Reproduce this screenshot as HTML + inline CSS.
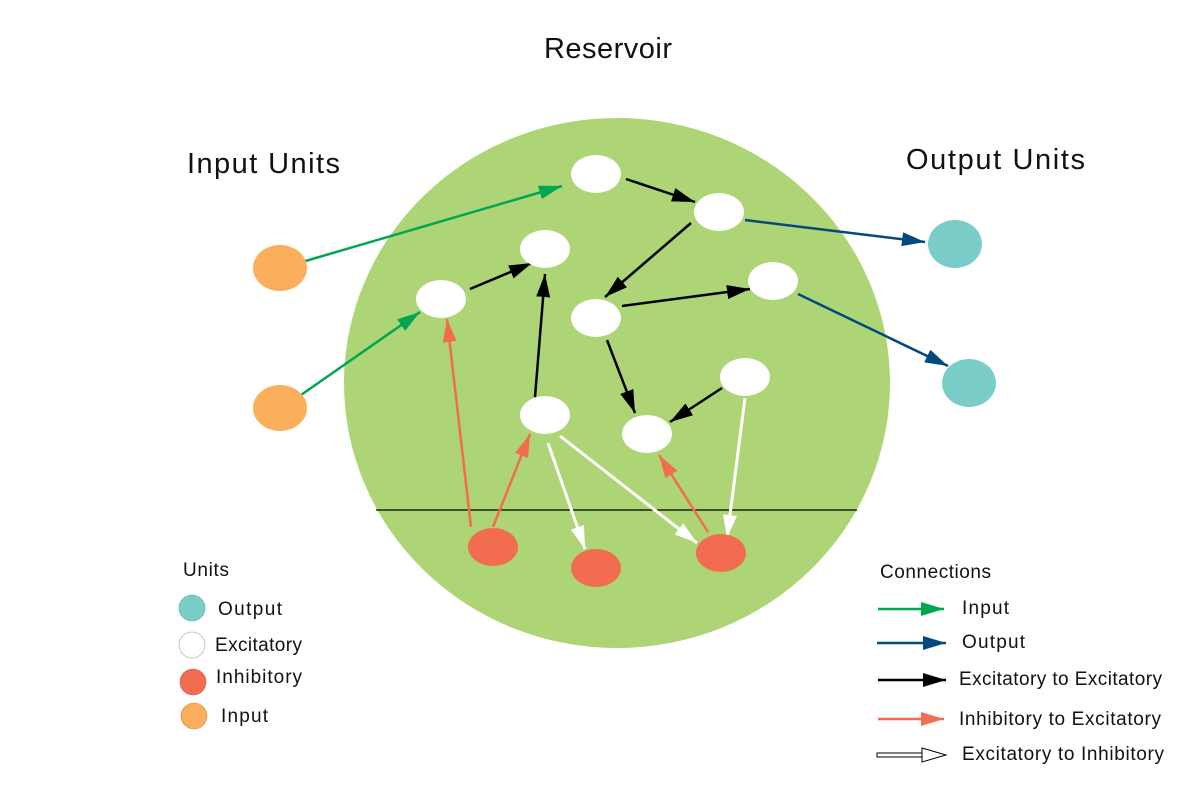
<!DOCTYPE html>
<html><head><meta charset="utf-8"><style>html,body{margin:0;padding:0;background:#fff}svg{display:block}text{font-family:"Liberation Sans",sans-serif;fill:#111}</style></head><body>
<svg width="1200" height="800" viewBox="0 0 1200 800" xmlns="http://www.w3.org/2000/svg">
<defs>
<marker id="mg" markerUnits="userSpaceOnUse" markerWidth="26" markerHeight="16" refX="23" refY="7" orient="auto"><path d="M0,0 L23,7 L0,14 Z" fill="#00a651"/></marker>
<marker id="mb" markerUnits="userSpaceOnUse" markerWidth="26" markerHeight="16" refX="23" refY="7" orient="auto"><path d="M0,0 L23,7 L0,14 Z" fill="#004a80"/></marker>
<marker id="mk" markerUnits="userSpaceOnUse" markerWidth="26" markerHeight="16" refX="23" refY="7" orient="auto"><path d="M0,0 L23,7 L0,14 Z" fill="#000"/></marker>
<marker id="mr" markerUnits="userSpaceOnUse" markerWidth="26" markerHeight="16" refX="23" refY="7" orient="auto"><path d="M0,0 L23,7 L0,14 Z" fill="#f26c4f"/></marker>
<marker id="mw" markerUnits="userSpaceOnUse" markerWidth="26" markerHeight="16" refX="23" refY="7" orient="auto"><path d="M0,0 L23,7 L0,14 Z" fill="#fff"/></marker>
</defs>
<text x="544" y="58" font-size="29" textLength="128">Reservoir</text>
<text x="187" y="173" font-size="29" textLength="153">Input Units</text>
<text x="906" y="169" font-size="29" textLength="179">Output Units</text>
<ellipse cx="617" cy="383" rx="273" ry="265" fill="#add475"/>
<line x1="376" y1="510" x2="857" y2="510" stroke="#000" stroke-width="1.2"/>
<g stroke-width="2.5" fill="none">
<line x1="302" y1="262" x2="562" y2="186" stroke="#00a651" marker-end="url(#mg)"/>
<line x1="301" y1="395" x2="420" y2="312" stroke="#00a651" marker-end="url(#mg)"/>
<line x1="745" y1="220" x2="925" y2="242" stroke="#004a80" marker-end="url(#mb)"/>
<line x1="798" y1="294" x2="948" y2="366" stroke="#004a80" marker-end="url(#mb)"/>
<line x1="626" y1="179" x2="695" y2="202" stroke="#000" marker-end="url(#mk)"/>
<line x1="691" y1="223" x2="605" y2="297" stroke="#000" marker-end="url(#mk)"/>
<line x1="470" y1="289" x2="532" y2="263" stroke="#000" marker-end="url(#mk)"/>
<line x1="622" y1="306" x2="750" y2="289" stroke="#000" marker-end="url(#mk)"/>
<line x1="535" y1="397" x2="545" y2="274" stroke="#000" marker-end="url(#mk)"/>
<line x1="607" y1="340" x2="635" y2="413" stroke="#000" marker-end="url(#mk)"/>
<line x1="722" y1="388" x2="670" y2="422" stroke="#000" marker-end="url(#mk)"/>
<line x1="471" y1="527" x2="447" y2="319" stroke="#f26c4f" marker-end="url(#mr)"/>
<line x1="493" y1="527" x2="530" y2="434" stroke="#f26c4f" marker-end="url(#mr)"/>
<line x1="708" y1="532" x2="659" y2="455" stroke="#f26c4f" marker-end="url(#mr)"/>
<line x1="548" y1="443" x2="585" y2="549" stroke="#fff" stroke-width="3" marker-end="url(#mw)"/>
<line x1="560" y1="436" x2="697" y2="543" stroke="#fff" stroke-width="3" marker-end="url(#mw)"/>
<line x1="745" y1="398" x2="727" y2="538" stroke="#fff" stroke-width="3" marker-end="url(#mw)"/>
</g>
<g fill="#fff">
<ellipse cx="596" cy="174" rx="25" ry="19"/>
<ellipse cx="719" cy="212" rx="25" ry="19"/>
<ellipse cx="545" cy="249" rx="25" ry="19"/>
<ellipse cx="441" cy="299" rx="25" ry="19"/>
<ellipse cx="773" cy="281" rx="25" ry="19"/>
<ellipse cx="596" cy="318" rx="25" ry="19"/>
<ellipse cx="745" cy="377" rx="25" ry="19"/>
<ellipse cx="545" cy="415" rx="25" ry="19"/>
<ellipse cx="647" cy="434" rx="25" ry="19"/>
</g>
<g fill="#f26c4f">
<ellipse cx="493" cy="547" rx="25" ry="19"/>
<ellipse cx="596" cy="568" rx="25" ry="19"/>
<ellipse cx="721" cy="553" rx="25" ry="19"/>
</g>
<ellipse cx="280" cy="268" rx="27" ry="23" fill="#fbaf5d"/>
<ellipse cx="280" cy="408" rx="27" ry="23" fill="#fbaf5d"/>
<ellipse cx="955" cy="244" rx="27" ry="24" fill="#7accc8"/>
<ellipse cx="969" cy="383" rx="27" ry="24" fill="#7accc8"/>
<text x="183" y="576" font-size="19" textLength="46">Units</text>
<circle cx="192" cy="608" r="13" fill="#7accc8" stroke="#5aa" stroke-width="0.6"/>
<text x="218" y="615" font-size="19" textLength="64">Output</text>
<circle cx="192" cy="645" r="13" fill="#fff" stroke="#bbb" stroke-width="0.8"/>
<text x="215" y="651" font-size="19" textLength="87">Excitatory</text>
<circle cx="193" cy="682" r="13" fill="#f26c4f" stroke="#c55" stroke-width="0.6"/>
<text x="216" y="683" font-size="19" textLength="86">Inhibitory</text>
<circle cx="194" cy="716" r="13" fill="#fbaf5d" stroke="#c85" stroke-width="0.6"/>
<text x="221" y="722" font-size="19" textLength="47">Input</text>
<text x="880" y="578" font-size="19" textLength="111">Connections</text>
<g stroke-width="2.5">
<line x1="878" y1="609" x2="944" y2="609" stroke="#00a651" marker-end="url(#mg)"/>
<line x1="877" y1="643" x2="946" y2="643" stroke="#004a80" marker-end="url(#mb)"/>
<line x1="878" y1="680" x2="946" y2="680" stroke="#000" marker-end="url(#mk)"/>
<line x1="878" y1="719" x2="944" y2="719" stroke="#f26c4f" marker-end="url(#mr)"/>
</g>
<rect x="877" y="753" width="45" height="4" fill="#fff" stroke="#000" stroke-width="1"/>
<path d="M922,748 L946,755 L922,762 Z" fill="#fff" stroke="#000" stroke-width="1"/>
<text x="962" y="614" font-size="19" textLength="47">Input</text>
<text x="962" y="648" font-size="19" textLength="63">Output</text>
<text x="959" y="685" font-size="19" textLength="203">Excitatory to Excitatory</text>
<text x="959" y="725" font-size="19" textLength="202">Inhibitory to Excitatory</text>
<text x="962" y="760" font-size="19" textLength="202">Excitatory to Inhibitory</text>
</svg>
</body></html>
